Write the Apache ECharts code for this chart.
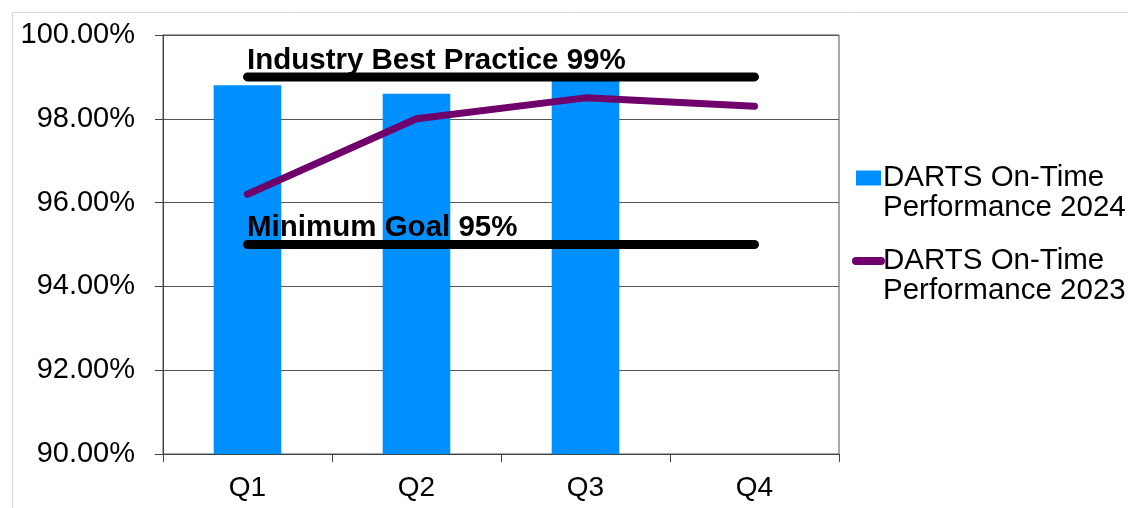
<!DOCTYPE html>
<html>
<head>
<meta charset="utf-8">
<script src="https://cdn.jsdelivr.net/npm/echarts@6/dist/echarts.min.js"></script>
<style>
  html, body { margin: 0; padding: 0; background: #fff; }
  #chart { width: 1128px; height: 508px; }
</style>
</head>
<body>
<div id="chart"></div>
<script>
// quarters on the x axis
var quarters = ['Q1', 'Q2', 'Q3', 'Q4'];
// on-time performance, percent
var perf2024 = [98.8, 98.6, 99.0, null];
var perf2023 = [96.2, 98.0, 98.5, 98.3];
// reference levels
var bestPractice = [99, 99, 99, 99];
var minimumGoal = [95, 95, 95, 95];
var bestPracticeLabel = 'Industry Best Practice 99%';
var minimumGoalLabel = 'Minimum Goal 95%';
var name2024 = 'DARTS On-Time\nPerformance 2024';
var name2023 = 'DARTS On-Time\nPerformance 2023';

var FONT = 'Liberation Sans, Arial, sans-serif';

function refLine(values, text) {
    return {
        type: 'line',
        data: values.map(function (v, i) {
            if (i === 0) {
                return {
                    value: v,
                    label: {
                        show: true,
                        position: [0, -1],
                        align: 'left',
                        verticalAlign: 'bottom',
                        formatter: text,
                        color: '#000',
                        fontFamily: FONT,
                        fontWeight: 'bold',
                        fontSize: 29.5
                    }
                };
            }
            return v;
        }),
        symbol: 'circle',
        symbolSize: 1,
        showSymbol: true,
        itemStyle: { color: '#000' },
        lineStyle: { color: '#000', width: 9, cap: 'round' },
        z: 4,
        silent: true
    };
}

var chart = echarts.init(document.getElementById('chart'));

var option = {
    animation: false,
    textStyle: { fontFamily: FONT },
    graphic: [{
        type: 'rect',
        shape: { x: 12.5, y: 12.5, width: 1200, height: 600 },
        style: { fill: 'none', stroke: '#d9d9d9', lineWidth: 1 },
        silent: true
    }],
    grid: {
        left: 163,
        right: 289,
        top: 35,
        bottom: 54,
        show: true,
        borderColor: '#555',
        borderWidth: 1
    },
    legend: {
        orient: 'vertical',
        left: 852,
        top: 133,
        padding: 0,
        itemGap: -7,
        itemWidth: 25,
        itemHeight: 15,
        // blank first line so the icon sits beside the first text line
        formatter: function (name) { return ' \n' + name; },
        data: [
            { name: name2024, icon: 'rect' },
            {
                name: name2023,
                lineStyle: { width: 8, cap: 'round', color: '#6f006b' },
                itemStyle: { color: 'rgba(0,0,0,0)', borderWidth: 0 }
            }
        ],
        textStyle: {
            color: '#000',
            fontFamily: FONT,
            fontSize: 29.5,
            lineHeight: 30,
            padding: [0, 0, 0, -3]
        }
    },
    xAxis: {
        type: 'category',
        data: quarters,
        axisLine: { lineStyle: { color: '#444', width: 1 } },
        axisTick: { show: true, length: 8, lineStyle: { color: '#444' } },
        axisLabel: { color: '#000', fontSize: 28, margin: 20, fontFamily: FONT }
    },
    yAxis: {
        type: 'value',
        min: 90,
        max: 100,
        interval: 2,
        axisLine: { show: true, lineStyle: { color: '#444', width: 1 } },
        axisTick: { show: true, length: 8, lineStyle: { color: '#444' } },
        splitLine: { lineStyle: { color: '#555', width: 1 } },
        axisLabel: {
            color: '#000',
            fontSize: 29,
            margin: 28,
            fontFamily: FONT,
            formatter: function (v) { return v.toFixed(2) + '%'; }
        }
    },
    series: [
        {
            name: name2024,
            type: 'bar',
            data: perf2024,
            barWidth: '40%',
            itemStyle: { color: '#008fff' },
            z: 2
        },
        refLine(bestPractice, bestPracticeLabel),
        refLine(minimumGoal, minimumGoalLabel),
        {
            name: name2023,
            type: 'line',
            data: perf2023,
            symbol: 'none',
            itemStyle: { color: '#6f006b' },
            lineStyle: { color: '#6f006b', width: 7, cap: 'round', join: 'round' },
            z: 5
        }
    ]
};

chart.setOption(option);
</script>
</body>
</html>
